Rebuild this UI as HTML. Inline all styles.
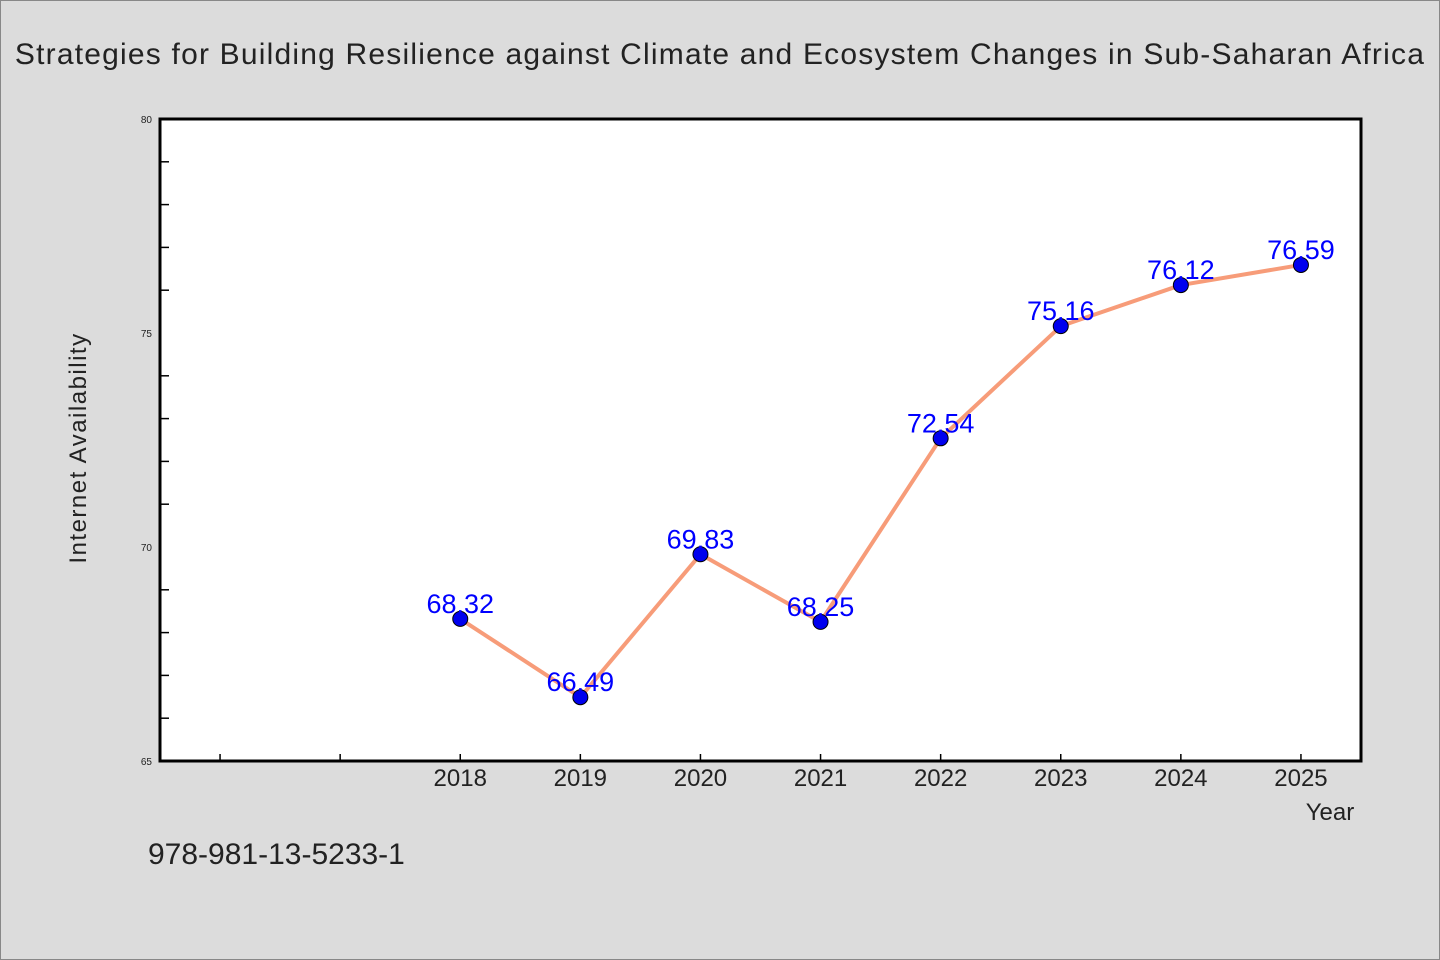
<!DOCTYPE html>
<html><head><meta charset="utf-8"><style>
html,body{margin:0;padding:0;background:#dcdcdc;}
svg{display:block;font-family:"WenQuanYi Zen Hei","Liberation Sans",sans-serif;}
</style></head><body>
<svg id="chart" width="1440" height="960" xmlns="http://www.w3.org/2000/svg">
<rect x="0.5" y="0.5" width="1439" height="959" fill="#dcdcdc" stroke="#888"/>
<text x="720" y="64" text-anchor="middle" font-size="30" fill="#222" letter-spacing="1.2">Strategies for Building Resilience against Climate and Ecosystem Changes in Sub-Saharan Africa</text>
<rect x="160" y="119" width="1201" height="642" fill="#fff"/>
<g id="yticks"></g>
<g id="xticks"></g>
<g id="series"></g>
<rect x="160" y="119" width="1201" height="642" fill="none" stroke="#000" stroke-width="3"/>
<text x="86" y="448" text-anchor="middle" font-size="24" fill="#222" letter-spacing="1.5" transform="rotate(-90 86 448)">Internet Availability</text>
<text x="1330" y="820" text-anchor="middle" font-size="24" fill="#222">Year</text>
<text x="148" y="864" font-size="30" fill="#222">978-981-13-5233-1</text>
</svg>
<script>
const years = [2018, 2019, 2020, 2021, 2022, 2023, 2024, 2025];
const values = [68.32, 66.49, 69.83, 68.25, 72.54, 75.16, 76.12, 76.59];
const yMajorTicks = [65, 70, 75, 80];
const xTickYears = [2016, 2017, 2018, 2019, 2020, 2021, 2022, 2023, 2024, 2025];

const NS = "http://www.w3.org/2000/svg";
const L = 160, R = 1361, T = 119, B = 761;
const xMin = 2015.5, xMax = 2025.5, yMin = 65, yMax = 80;
const x = v => L + (v - xMin) / (xMax - xMin) * (R - L);
const y = v => B - (v - yMin) / (yMax - yMin) * (B - T);
function mk(tag, attrs, parent) {
  const e = document.createElementNS(NS, tag);
  for (const k in attrs) e.setAttribute(k, attrs[k]);
  parent.appendChild(e);
  return e;
}
const gy = document.getElementById('yticks');
for (let v = yMin; v <= yMax; v += 1) {
  if (v % 5 !== 0) {
    const t = mk('line', {x1: L, x2: L + 9, y1: y(v), y2: y(v), stroke: '#000', 'stroke-width': 1.5}, gy);
    
    
  }
}
yMajorTicks.forEach(v => {
  const t = mk('text', {x: L - 8, y: y(v) + 4, 'text-anchor': 'end', 'font-size': 10, fill: '#222'}, gy);
  t.textContent = v;
  
  
});
const gx = document.getElementById('xticks');
xTickYears.forEach(v => {
  const t = mk('line', {x1: x(v), x2: x(v), y1: B, y2: B - 7, stroke: '#000', 'stroke-width': 1.5}, gx);
  
  
});
years.forEach(v => {
  const t = mk('text', {x: x(v), y: B + 25, 'text-anchor': 'middle', 'font-size': 24, fill: '#222'}, gx);
  t.textContent = v;
  
  
});
const gs = document.getElementById('series');
const pts = years.map((yr, i) => x(yr) + ',' + y(values[i])).join(' ');
const line = mk('polyline', {points: pts, fill: 'none', stroke: '#f79c79', 'stroke-width': 4, 'stroke-linejoin': 'round'}, gs);


years.forEach((yr, i) => {
  const c = mk('circle', {cx: x(yr), cy: y(values[i]), r: 7.5, fill: '#0000ee', stroke: '#000', 'stroke-width': 1}, gs);
  
  
  const t = mk('text', {x: x(yr), y: y(values[i]) - 6, 'text-anchor': 'middle', 'font-size': 27, fill: '#0000ff'}, gs);
  t.textContent = values[i].toFixed(2);
  
  
});
</script>
</body></html>
